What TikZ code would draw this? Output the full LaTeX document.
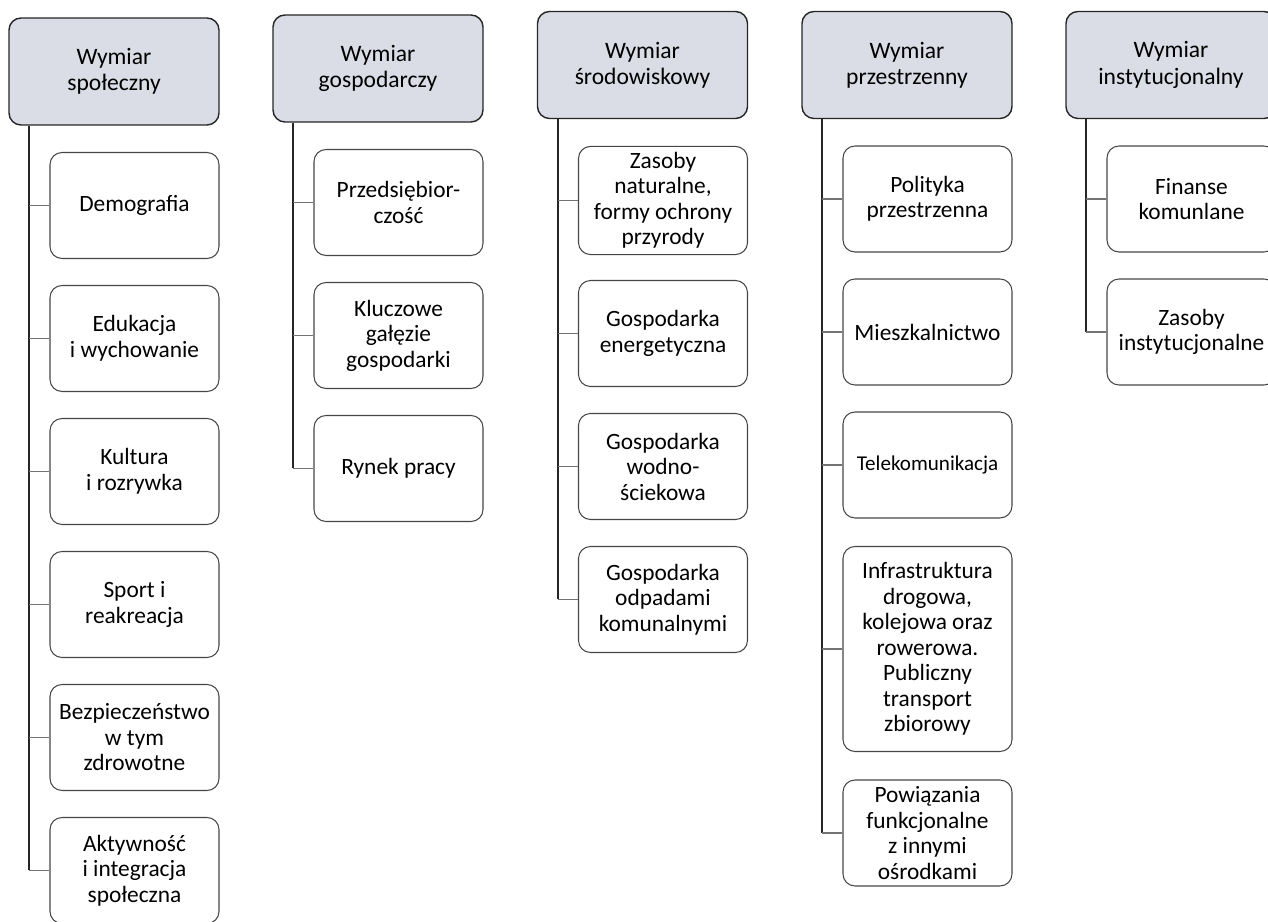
\documentclass[tikz,border=0pt]{standalone}
\usepackage{fontspec}
\setmainfont{Carlito}
\usetikzlibrary{positioning}
\definecolor{headfill}{RGB}{218,221,230}
\definecolor{linegray}{RGB}{70,70,70}

\begin{document}
\begin{tikzpicture}[node distance=2.66cm]

\tikzstyle{dimension} = [rectangle, rounded corners=0.24cm, minimum width=4.2cm, minimum height=2.14cm, align=center, draw=black!85, line width=0.8pt, fill=headfill, font=\fontsize{13.4}{15}\selectfont]
\tikzstyle{topic} = [rectangle, rounded corners=0.24cm, minimum width=3.38cm, minimum height=2.12cm, align=center, draw=linegray, line width=0.6pt, fill=white, font=\fontsize{13.3}{14.5}\selectfont]
\tikzstyle{trunk} = [line width=1pt, draw=black!85]
\tikzstyle{stub} = [line width=0.6pt, draw=black!55]

\useasboundingbox (0,0) rectangle (25.36,18.44);

% Headers
\node (spol) [dimension] at (2.28,17.01) {Wymiar\\społeczny};
\node (gosp) [dimension] at (7.56,17.07) {Wymiar\\gospodarczy};
\node (srod) [dimension] at (12.85,17.14) {Wymiar\\środowiskowy};
\node (przes) [dimension] at (18.14,17.14) {Wymiar\\przestrzenny};
\node (inst) [dimension] at (23.42,17.14) {Wymiar\\instytucjonalny};

% Wymiar społeczny
\node (demo) [topic, below of=spol, node distance=2.68cm, xshift=0.41cm] {Demografia};
\node (edu) [topic, below of=demo] {Edukacja\\i wychowanie};
\node (kult) [topic, below of=edu] {Kultura\\i rozrywka};
\node (sport) [topic, below of=kult] {Sport i\\reakreacja};
\node (bezp) [topic, below of=sport] {Bezpieczeństwo\\w tym\\zdrowotne};
\node (akt) [topic, below of=bezp] {Aktywność\\i integracja\\społeczna};

% Wymiar gospodarczy
\node (przed) [topic, below of=gosp, node distance=2.68cm, xshift=0.41cm] {Przedsiębior-\\czość};
\node (klucz) [topic, below of=przed] {Kluczowe\\gałęzie\\gospodarki};
\node (rynek) [topic, below of=klucz] {Rynek pracy};

% Wymiar środowiskowy
\node (zas) [topic, below of=srod, node distance=2.71cm, xshift=0.41cm] {Zasoby\\naturalne,\\formy ochrony\\przyrody};
\node (energ) [topic, below of=zas] {Gospodarka\\energetyczna};
\node (wod) [topic, below of=energ] {Gospodarka\\wodno-\\ściekowa};
\node (odp) [topic, below of=wod] {Gospodarka\\odpadami\\komunalnymi};

% Wymiar przestrzenny
\node (pol) [topic, below of=przes, node distance=2.68cm, xshift=0.41cm] {Polityka\\przestrzenna};
\node (mieszk) [topic, below of=pol] {Mieszkalnictwo};
\node (tele) [topic, below of=mieszk, font=\fontsize{12}{14}\selectfont] {Telekomunikacja};
\node (infra) [topic, below of=tele, node distance=3.68cm, minimum height=4.1cm] {Infrastruktura\\drogowa,\\kolejowa oraz\\rowerowa.\\Publiczny\\transport\\zbiorowy};
\node (pow) [topic, below of=infra, node distance=3.68cm] {Powiązania\\funkcjonalne\\z innymi\\ośrodkami};

% Wymiar instytucjonalny
\node (fin) [topic, below of=inst, node distance=2.68cm, xshift=0.41cm] {Finanse\\komunlane};
\node (zasi) [topic, below of=fin] {Zasoby\\instytucjonalne};

% Trunk lines
\coordinate (t1) at ([xshift=0.42cm]spol.south west);
\coordinate (t2) at ([xshift=0.42cm]gosp.south west);
\coordinate (t3) at ([xshift=0.42cm]srod.south west);
\coordinate (t4) at ([xshift=0.42cm]przes.south west);
\coordinate (t5) at ([xshift=0.42cm]inst.south west);

\draw [trunk] (t1) -- (t1 |- akt.west);
\draw [trunk] (t2) -- (t2 |- rynek.west);
\draw [trunk] (t3) -- (t3 |- odp.west);
\draw [trunk] (t4) -- (t4 |- pow.west);
\draw [trunk] (t5) -- (t5 |- zasi.west);

% Branches
\foreach \c in {demo,edu,kult,sport,bezp,akt}
  \draw [stub] (t1 |- \c.west) -- (\c.west);
\foreach \c in {przed,klucz,rynek}
  \draw [stub] (t2 |- \c.west) -- (\c.west);
\foreach \c in {zas,energ,wod,odp}
  \draw [stub] (t3 |- \c.west) -- (\c.west);
\foreach \c in {pol,mieszk,tele,infra,pow}
  \draw [stub] (t4 |- \c.west) -- (\c.west);
\foreach \c in {fin,zasi}
  \draw [stub] (t5 |- \c.west) -- (\c.west);

\end{tikzpicture}
\end{document}
